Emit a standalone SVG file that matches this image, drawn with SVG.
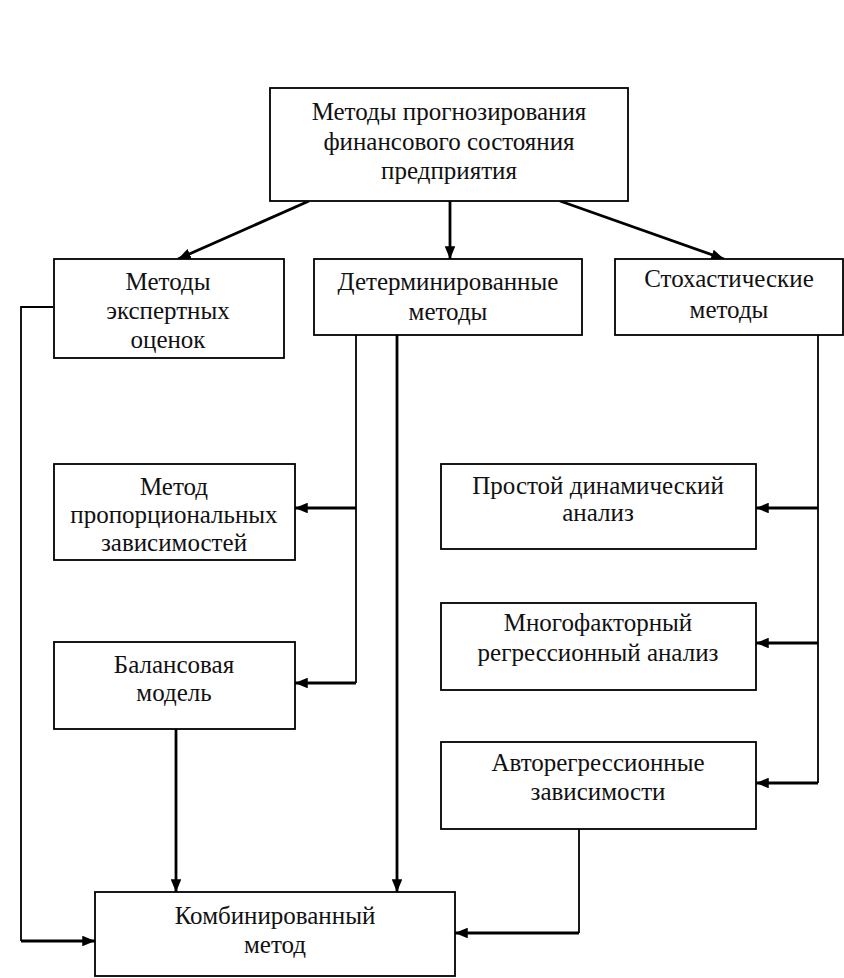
<svg xmlns="http://www.w3.org/2000/svg" width="844" height="978" viewBox="0 0 844 978">
<style>
rect.b{fill:#fff;stroke:#000;stroke-width:1.8}
text{font-family:"Liberation Serif","Times New Roman",serif;font-size:25px;fill:#111;text-anchor:middle}
.c{fill:none;stroke:#000;stroke-width:2.8}
.t{fill:none;stroke:#000;stroke-width:1.8}
</style>
<defs>
<marker id="a" viewBox="0 0 12 10" refX="12" refY="5" markerWidth="4.6" markerHeight="3.8" markerUnits="strokeWidth" orient="auto"><path d="M0,0L12,5L0,10z" fill="#000"/></marker>
</defs>
<rect width="844" height="978" fill="#fff"/>
<g id="connectors">
<path class="c" d="M309,201L178,259" marker-end="url(#a)"/>
<path class="c" d="M450,201L450,259" marker-end="url(#a)"/>
<path class="c" d="M560,201L724,259" marker-end="url(#a)"/>
<path class="t" d="M53,307H21V941"/>
<path class="c" d="M21,941H95" marker-end="url(#a)"/>
<path class="t" d="M356,335V683"/>
<path class="c" d="M356,508H295" marker-end="url(#a)"/>
<path class="c" d="M356,683H295" marker-end="url(#a)"/>
<path class="c" d="M397,335V892" marker-end="url(#a)"/>
<path class="c" d="M176,729V892" marker-end="url(#a)"/>
<path class="t" d="M818,335V783"/>
<path class="c" d="M818,508H756" marker-end="url(#a)"/>
<path class="c" d="M818,643H756" marker-end="url(#a)"/>
<path class="c" d="M818,783H756" marker-end="url(#a)"/>
<path class="t" d="M579,829V933"/>
<path class="c" d="M579,933H455" marker-end="url(#a)"/>
</g>
<g id="n-top"><rect class="b" x="270" y="88" width="358" height="113"/>
<text x="449" y="120">Методы прогнозирования</text><text x="449" y="150">финансового состояния</text><text x="449" y="179">предприятия</text></g>
<g id="n-expert"><rect class="b" x="54" y="259" width="230" height="99"/>
<text x="168" y="290">Методы</text><text x="168" y="319">экспертных</text><text x="168" y="348">оценок</text></g>
<g id="n-det"><rect class="b" x="314" y="259" width="268" height="76"/>
<text x="448" y="290">Детерминированные</text><text x="448" y="320">методы</text></g>
<g id="n-stoch"><rect class="b" x="615" y="259" width="228" height="76"/>
<text x="729" y="287">Стохастические</text><text x="729" y="318">методы</text></g>
<g id="n-prop"><rect class="b" x="54" y="464" width="241" height="96"/>
<text x="174" y="495">Метод</text><text x="174" y="523">пропорциональных</text><text x="174" y="551">зависимостей</text></g>
<g id="n-bal"><rect class="b" x="54" y="642" width="241" height="87"/>
<text x="174" y="673">Балансовая</text><text x="174" y="701">модель</text></g>
<g id="n-simple"><rect class="b" x="441" y="464" width="315" height="85"/>
<text x="598" y="494">Простой динамический</text><text x="598" y="521">анализ</text></g>
<g id="n-multi"><rect class="b" x="441" y="603" width="315" height="87"/>
<text x="598" y="631">Многофакторный</text><text x="598" y="661">регрессионный анализ</text></g>
<g id="n-auto"><rect class="b" x="441" y="742" width="315" height="87"/>
<text x="598" y="771">Авторегрессионные</text><text x="598" y="800">зависимости</text></g>
<g id="n-comb"><rect class="b" x="95" y="892" width="360" height="84"/>
<text x="275" y="924">Комбинированный</text><text x="275" y="953">метод</text></g>
</svg>
